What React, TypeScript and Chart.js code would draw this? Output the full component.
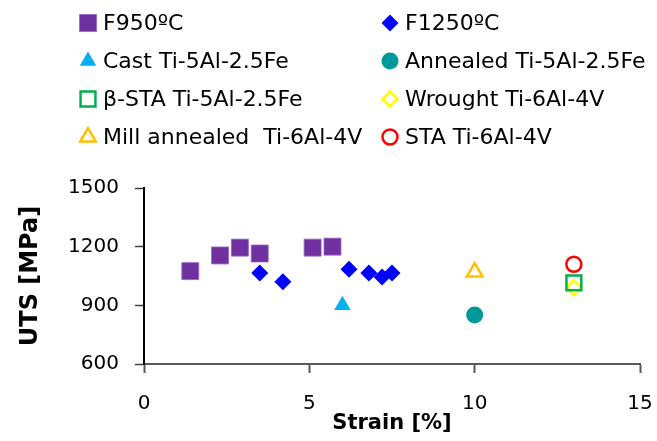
import React, { useEffect, useRef } from "react";
import { Chart, registerables } from "chart.js";
import { drawPoint } from "chart.js/helpers";

Chart.register(...registerables);

// ---- data ----
const F950_X = [1.4, 2.3, 2.9, 3.5, 5.1, 5.7];
const F950_Y = [1075, 1155, 1195, 1165, 1195, 1200];
const F1250_X = [3.5, 4.2, 6.2, 6.8, 7.2, 7.5];
const F1250_Y = [1065, 1020, 1085, 1065, 1045, 1065];
const CAST_X = [6.0];
const CAST_Y = [900];
const ANNEALED_X = [10];
const ANNEALED_Y = [850];
const BSTA_X = [13];
const BSTA_Y = [1015];
const WROUGHT_X = [13];
const WROUGHT_Y = [990];
const MILL_X = [10];
const MILL_Y = [1070];
const STA_X = [13];
const STA_Y = [1110];

const SERIES_NAMES = [
  "F950ºC",
  "F1250ºC",
  "Cast Ti-5Al-2.5Fe",
  "Annealed Ti-5Al-2.5Fe",
  "β-STA Ti-5Al-2.5Fe",
  "Wrought Ti-6Al-4V",
  "Mill annealed  Ti-6Al-4V",
  "STA Ti-6Al-4V",
];

const X_TICKS = [0, 5, 10, 15];
const Y_TICKS = [600, 900, 1200, 1500];

const pts = (xs: number[], ys: number[]) => xs.map((x, i) => ({ x, y: ys[i] }));

const legendPlugin = {
  id: "gridLegend",
  afterDraw(chart: any) {
    const ctx = chart.ctx;
    ctx.save();
    chart.data.datasets.forEach((ds: any, i: number) => {
      const col = i % 2;
      const row = Math.floor(i / 2);
      const mx = col ? 390 : 88;
      const tx = col ? 405 : 103;
      const y = 23 + row * 38;
      ctx.fillStyle = ds.backgroundColor;
      ctx.strokeStyle = ds.borderColor;
      ctx.lineWidth = ds.borderWidth;
      drawPoint(ctx, { pointStyle: ds.pointStyle, radius: ds.pointRadius, rotation: 0, borderWidth: ds.borderWidth }, mx, y);
      ctx.fillStyle = "#000";
      ctx.font = "22px 'DejaVu Sans'";
      ctx.textBaseline = "middle";
      ctx.textAlign = "left";
      ctx.fillText(ds.label, tx, y + 1);
    });
    ctx.restore();
  },
};

export default function App() {
  const ref = useRef<HTMLCanvasElement>(null);
  useEffect(() => {
    if (!ref.current) return;
    const mk = (i: number, data: any[], style: string, r: number, fill: string, border: string, bw: number) => ({
      label: SERIES_NAMES[i],
      data,
      pointStyle: style,
      pointRadius: r,
      pointHoverRadius: r,
      backgroundColor: fill,
      borderColor: border,
      borderWidth: bw,
      showLine: false,
    });
    const chart = new Chart(ref.current, {
      type: "scatter",
      data: {
        datasets: [
          mk(0, pts(F950_X, F950_Y), "rect", 12, "#7030A0", "rgba(150,100,200,0.8)", 1),
          mk(1, pts(F1250_X, F1250_Y), "rectRot", 8.5, "#0000FF", "#0000FF", 0),
          mk(2, pts(CAST_X, CAST_Y), "triangle", 9.5, "#00B0F0", "#00B0F0", 0),
          mk(3, pts(ANNEALED_X, ANNEALED_Y), "circle", 8.5, "#009999", "#009999", 0),
          mk(4, pts(BSTA_X, BSTA_Y), "rect", 10.5, "rgba(0,0,0,0)", "#00B050", 2.5),
          mk(5, pts(WROUGHT_X, WROUGHT_Y), "rectRot", 7.5, "rgba(0,0,0,0)", "#FFFF00", 2.5),
          mk(6, pts(MILL_X, MILL_Y), "triangle", 9, "rgba(0,0,0,0)", "#FFC000", 2.5),
          mk(7, pts(STA_X, STA_Y), "circle", 7.5, "rgba(0,0,0,0)", "#FF0000", 2.5),
        ] as any,
      },
      options: {
        animation: false,
        responsive: false,
        devicePixelRatio: 1,
        layout: { padding: { top: 188, right: 17, left: 0, bottom: 0 } },
        plugins: { legend: { display: false }, tooltip: { enabled: false } },
        scales: {
          x: {
            type: "linear",
            min: 0,
            max: 15,
            afterBuildTicks: (s: any) => { s.ticks = X_TICKS.map((v) => ({ value: v })); },
            afterFit: (s: any) => { s.height = 77; s.paddingLeft = 0; s.paddingRight = 0; },
            ticks: { color: "#000", font: { family: "'DejaVu Sans'", size: 20 }, padding: 19, callback: (v: any) => String(v) },
            grid: { drawOnChartArea: false, drawTicks: true, tickLength: 9, tickColor: "#595959", tickWidth: 2 },
            border: { display: true, color: "#595959", width: 2 },
            title: { display: true, text: "Strain [%]", color: "#000", font: { family: "'DejaVu Sans'", size: 21, weight: "bold" }, padding: { top: 0, bottom: 5 } },
          },
          y: {
            type: "linear",
            min: 600,
            max: 1500,
            afterBuildTicks: (s: any) => { s.ticks = Y_TICKS.map((v) => ({ value: v })); },
            afterFit: (s: any) => { s.width = 144; },
            ticks: { color: "#000", font: { family: "'DejaVu Sans'", size: 20 }, padding: 16, callback: (v: any) => String(v) },
            grid: { drawOnChartArea: false, drawTicks: true, tickLength: 9, tickColor: "#404040", tickWidth: 1.5 },
            border: { display: true, color: "#000", width: 2 },
            title: { display: true, text: "UTS [MPa]", color: "#000", font: { family: "'DejaVu Sans'", size: 24, weight: "bold" }, padding: { top: 16, bottom: 0 } },
          },
        },
      },
      plugins: [legendPlugin],
    } as any);
    return () => chart.destroy();
  }, []);
  return (
    <div style={{ position: "fixed", left: 0, top: 0, width: 657, height: 441, background: "#fff" }}>
      <canvas ref={ref} width={657} height={441} style={{ display: "block" }} />
    </div>
  );
}
